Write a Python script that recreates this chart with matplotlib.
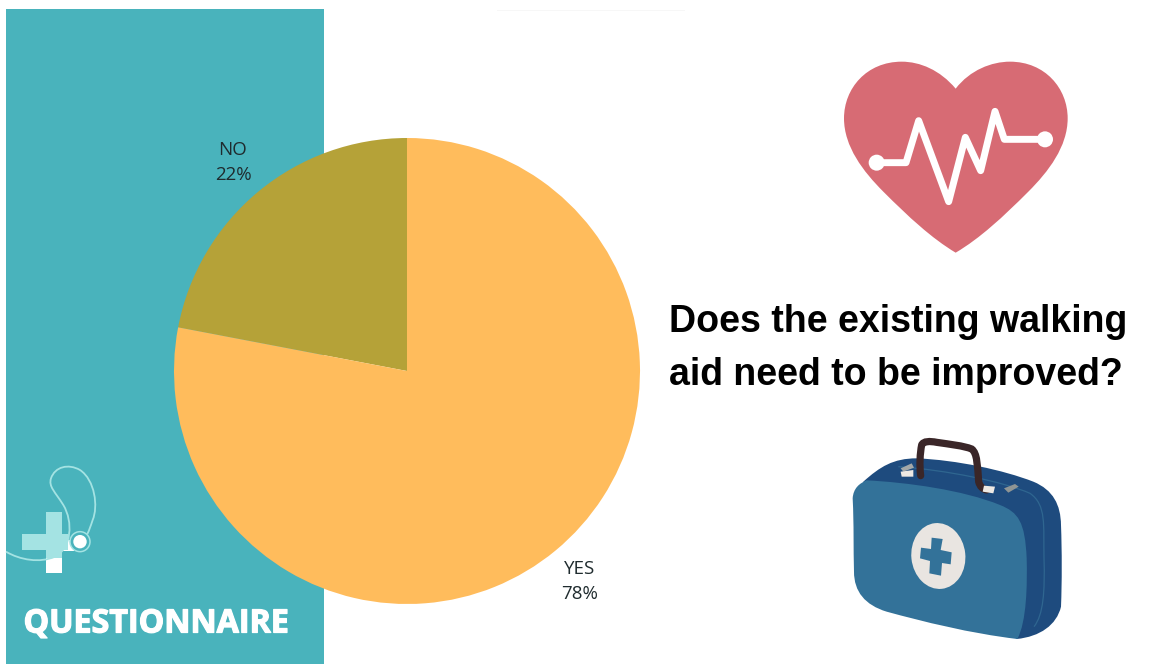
import matplotlib

matplotlib.use("Agg")
import matplotlib.patheffects as pe
import matplotlib.pyplot as plt
from matplotlib.patches import Circle, Ellipse, PathPatch, Polygon, Rectangle
from matplotlib.path import Path

categories = ["NO", "YES"]
shares = [22, 78]
slice_colors = ["#b5a238", "#ffbc5c"]
title_lines = ["Does the existing walking", "aid need to be improved?"]
panel_title = "QUESTIONNAIRE"

W, H = 1172, 664
TEAL = "#49b3bc"
PALE = "#a4e3e3"


def curve(ox, oy, start, *segments, scale=1 / 3, close=True):
    """Build a bezier path from points given in a local, 3x-scaled frame."""
    conv = lambda p: (ox + p[0] * scale, oy + p[1] * scale)
    verts = [conv(start)]
    codes = [Path.MOVETO]
    for seg in segments:
        verts.extend(conv(p) for p in seg)
        codes.extend([Path.CURVE4] * 3 if len(seg) == 3 else [Path.LINETO])
    if close:
        verts.append(verts[0])
        codes.append(Path.CLOSEPOLY)
    return Path(verts, codes)


def draw_heart(ax):
    ox, oy = 820, 50
    heart = curve(
        ox, oy, (407, 116),
        ((360, 60), (300, 35), (245, 35)),
        ((140, 35), (72, 115), (72, 205)),
        ((72, 290), (130, 365), (190, 425)),
        ((265, 500), (335, 565), (407, 608)),
        ((480, 565), (550, 500), (625, 425)),
        ((685, 365), (743, 290), (743, 205)),
        ((743, 115), (675, 35), (570, 35)),
        ((515, 35), (450, 60), (407, 116)),
    )
    ax.add_patch(PathPatch(heart, fc="#d76b74", ec="none"))
    pulse = [(170, 338), (258, 338), (296, 212), (386, 455), (436, 262),
             (482, 362), (525, 184), (553, 268), (675, 268)]
    ax.plot([ox + x / 3 for x, _ in pulse], [oy + y / 3 for _, y in pulse],
            color="white", lw=5, solid_joinstyle="round", solid_capstyle="round")
    for x, y in (pulse[0], pulse[-1]):
        ax.add_patch(Circle((ox + x / 3, oy + y / 3), 8, fc="white", ec="none", zorder=3))


def draw_kit(ax):
    ox, oy = 830, 425
    back = curve(
        ox, oy, (100, 170),
        ((150, 125), (190, 100), (260, 100)),
        ((380, 105), (520, 135), (610, 170)),
        ((670, 195), (692, 240), (693, 300)),
        ((696, 380), (696, 470), (693, 545)),
        ((680, 600), (630, 635), (560, 642)),
        ((400, 500), (200, 300), (100, 170)),
    )
    ax.add_patch(PathPatch(back, fc="#1e4b7e", ec="none"))
    seam = curve(ox, oy, (205, 125), ((350, 135), (520, 170), (600, 205)),
                 ((650, 240), (640, 300), (642, 400)), ((645, 500), (640, 570), (612, 605)),
                 close=False)
    ax.add_patch(PathPatch(seam, fc="none", ec="#2f6690", lw=0.9))
    front = curve(
        ox, oy, (110, 166),
        ((230, 172), (400, 195), (510, 240)),
        ((565, 262), (585, 290), (590, 400)),
        ((592, 480), (590, 590), (562, 642)),
        ((420, 625), (280, 590), (170, 560)),
        ((105, 540), (72, 500), (72, 440)),
        ((70, 370), (72, 300), (68, 220)),
        ((70, 190), (88, 175), (110, 166)),
    )
    ax.add_patch(PathPatch(front, fc="#337299", ec="none"))
    ax.add_patch(Ellipse((ox + 325 / 3, oy + 393 / 3), 162 / 3, 198 / 3, angle=-6,
                         fc="#e9e5e1", ec="none"))
    cross = [(305, 338), (338, 342), (332, 375), (365, 382), (362, 418), (336, 414),
             (333, 452), (298, 445), (300, 408), (270, 400), (273, 368), (303, 372)]
    ax.add_patch(Polygon([(ox + x / 3, oy + y / 3) for x, y in cross], fc="#337299", ec="none"))
    handle = curve(
        ox, oy, (272, 152),
        ((268, 120), (270, 85), (275, 60)),
        ((280, 48), (300, 48), (320, 52)),
        ((360, 58), (400, 62), (425, 72)),
        ((442, 85), (442, 120), (446, 170)),
        ((450, 185), (458, 192), (470, 195)),
        close=False,
    )
    ax.add_patch(PathPatch(handle, fc="none", ec="#3a2628", lw=5.2, capstyle="round"))
    for pts, col in (
        ([(212, 130), (245, 115), (252, 128), (220, 140)], "#a3a8a8"),
        ([(212, 140), (250, 135), (250, 155), (215, 155)], "#eee9e4"),
        ([(522, 190), (555, 177), (566, 185), (535, 203)], "#8f9594"),
        ([(462, 182), (495, 185), (490, 205), (458, 200)], "#eee9e4"),
    ):
        ax.add_patch(Polygon([(ox + x / 3, oy + y / 3) for x, y in pts], fc=col, ec="none"))


def draw_logo(ax):
    ox, oy = 0, 450
    r = lambda x0, y0, x1, y1: (ox + x0 / 3, oy + y0 / 3, (x1 - x0) / 3, (y1 - y0) / 3)
    for x0, y0, x1, y1, col in (
        (138, 300, 187, 369, "white"),
        (187, 270, 222, 302, "white"),
        (66, 252, 205, 300, PALE),
        (138, 185, 187, 325, PALE),
    ):
        x, y, w, h = r(x0, y0, x1, y1)
        ax.add_patch(Rectangle((x, y), w, h, fc=col, ec="none"))
    tube = curve(
        ox, oy, (18, 305),
        ((60, 330), (120, 340), (165, 320)),
        ((215, 295), (220, 215), (190, 165)),
        ((165, 125), (145, 110), (153, 85)),
        ((165, 50), (205, 40), (240, 60)),
        ((285, 90), (295, 170), (278, 210)),
        ((272, 228), (268, 240), (262, 252)),
        close=False,
    )
    ax.add_patch(PathPatch(tube, fc="none", ec=PALE, lw=1.3))
    ax.add_patch(Circle((ox + 240 / 3, oy + 275 / 3), 10, fc=TEAL, ec=PALE, lw=1.1))
    ax.add_patch(Circle((ox + 240 / 3, oy + 275 / 3), 6.7, fc="white", ec="none"))


fig = plt.figure(figsize=(W / 100, H / 100), dpi=100, facecolor="white")

# Full-figure layer measured in pixels, y pointing down.
back_ax = fig.add_axes([0, 0, 1, 1], zorder=1)
back_ax.set_xlim(0, W)
back_ax.set_ylim(H, 0)
back_ax.axis("off")
back_ax.add_patch(Rectangle((6, 9), 318, 655, fc=TEAL, ec="none"))
back_ax.add_patch(Rectangle((497, 9.5), 188, 1.2, fc="#f7f7f7", ec="none"))
draw_logo(back_ax)
draw_heart(back_ax)
draw_kit(back_ax)

# Pie sits on its own axes, unit radius filling the box.
cx, cy, radius = 407, 371, 233
pie_ax = fig.add_axes(
    [(cx - radius) / W, (H - cy - radius) / H, 2 * radius / W, 2 * radius / H], zorder=2
)
pie_ax.pie(shares, colors=slice_colors, startangle=90, radius=1)
pie_ax.set_xlim(-1, 1)
pie_ax.set_ylim(-1, 1)

text_ax = fig.add_axes([0, 0, 1, 1], zorder=3)
text_ax.set_xlim(0, W)
text_ax.set_ylim(H, 0)
text_ax.axis("off")
text_ax.patch.set_alpha(0)

label_spots = [(233, 150, 175), (580, 569, 594)]
for name, share, (x, y0, y1) in zip(categories, shares, label_spots):
    text_ax.text(x, y0, name, ha="center", va="center", family="Open Sans",
                 fontsize=13.5, color="#1f2b2e")
    text_ax.text(x, y1, f"{share}%", ha="center", va="center", family="Open Sans",
                 fontsize=13.5, color="#1f2b2e")

text_ax.text(156, 624, panel_title, ha="center", va="center", family="Open Sans",
             fontweight="bold", fontsize=23.2, color="white",
             path_effects=[pe.withStroke(linewidth=0.9, foreground="white")])
for line, y in zip(title_lines, (322, 375)):
    text_ax.text(669, y, line, ha="left", va="center", family="Liberation Sans",
                 fontweight="bold", fontsize=27, color="black")

fig.savefig("out.png", dpi=100)
plt.close(fig)
